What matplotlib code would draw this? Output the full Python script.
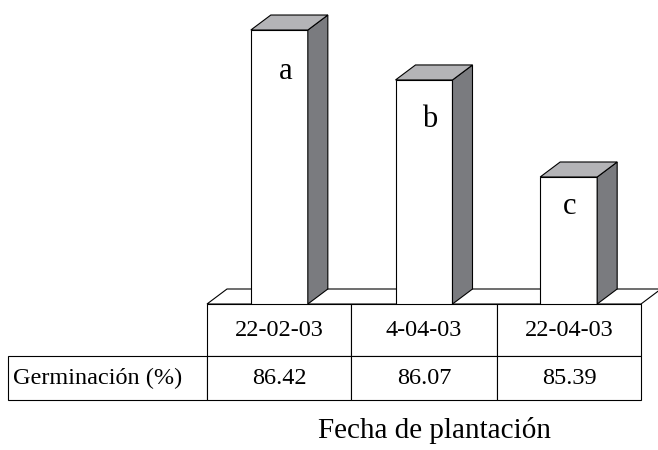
import numpy as np
import matplotlib.pyplot as plt
from matplotlib.patches import Polygon
from matplotlib.transforms import IdentityTransform

# --- data ---
dates = ['22-02-03', '4-04-03', '22-04-03']
germination = [86.42, 86.07, 85.39]
letters = ['a', 'b', 'c']
row_label = 'Germinación (%)'
x_label = 'Fecha de plantación'

# --- style ---
plt.rcParams['font.family'] = ['Liberation Serif', 'DejaVu Serif']
W, H = 658, 450
Y0 = 84.5            # value at the floor
PX_PER_UNIT = 142.7  # vertical scale of the bars
DX, DY = 20, 15      # 3d depth in pixels
TOP_C = '#b4b4b7'
SIDE_C = '#7a7b7f'
LW = 0.8
LABEL_DX = (6, 6, 1)
LABEL_DROP = (41, 40, 30)

fig = plt.figure(figsize=(W / 100, H / 100), dpi=100)
ax = fig.add_axes([207 / W, 146 / H, 434 / W, 304 / H])
ax.set_xlim(-0.5, 2.5)
ax.set_ylim(Y0, Y0 + 304 / PX_PER_UNIT)
ax.axis('off')
ident = IdentityTransform()


def depth_poly(pts, color, z):
    # pts: list of (display point, use depth offset)
    xy = [(p[0] + DX * d, p[1] + DY * d) for p, d in pts]
    ax.add_patch(Polygon(xy, closed=True, facecolor=color, edgecolor='black',
                         lw=LW, transform=ident, clip_on=False, zorder=z))


# floor
fl, fr = ax.transData.transform([(-0.5, Y0), (2.5, Y0)])
depth_poly([(fl, 0), (fr, 0), (fr, 1), (fl, 1)], 'white', 1)

# bars
x = np.arange(len(dates))
vals = np.array(germination)
bars = ax.bar(x, vals - Y0, bottom=Y0, width=0.394, color='white',
              edgecolor='black', lw=LW, zorder=2)
for i, v in enumerate(vals):
    (x0, y0), (x1, y1) = ax.transData.transform([(i - 0.197, Y0), (i + 0.197, v)])
    depth_poly([((x1, y0), 0), ((x1, y0), 1), ((x1, y1), 1), ((x1, y1), 0)], SIDE_C, 3)
    depth_poly([((x0, y1), 0), ((x1, y1), 0), ((x1, y1), 1), ((x0, y1), 1)], TOP_C, 3)
    ax.annotate(letters[i], (i, v), xytext=(LABEL_DX[i], -LABEL_DROP[i]),
                textcoords='offset pixels', ha='center', va='center',
                fontsize=22, zorder=4)

# table under the bars
cells = [[''] + dates, [row_label] + ['%.2f' % g for g in germination]]
left = (8 - 207) / 434
tab = ax.table(cellText=cells, cellLoc='center',
               bbox=[left, -96 / 304, 1 - left, 96 / 304])
tab.auto_set_font_size(False)
tab.set_fontsize(17.5)
widths = [199, 144, 146, 144]
heights = [52, 44]
for (r, c), cell in tab.get_celld().items():
    cell.set_width(widths[c])
    cell.set_height(heights[r])
    cell.set_linewidth(LW)
    cell.set_edgecolor('black')
tab[0, 0].visible_edges = 'open'
tab[1, 0].PAD = 0.024
tab[1, 0].get_text().set_ha('left')

fig.text(434.5 / W, (H - 438) / H, x_label, ha='center', va='baseline', fontsize=21)

fig.savefig('out.png', dpi=100)
